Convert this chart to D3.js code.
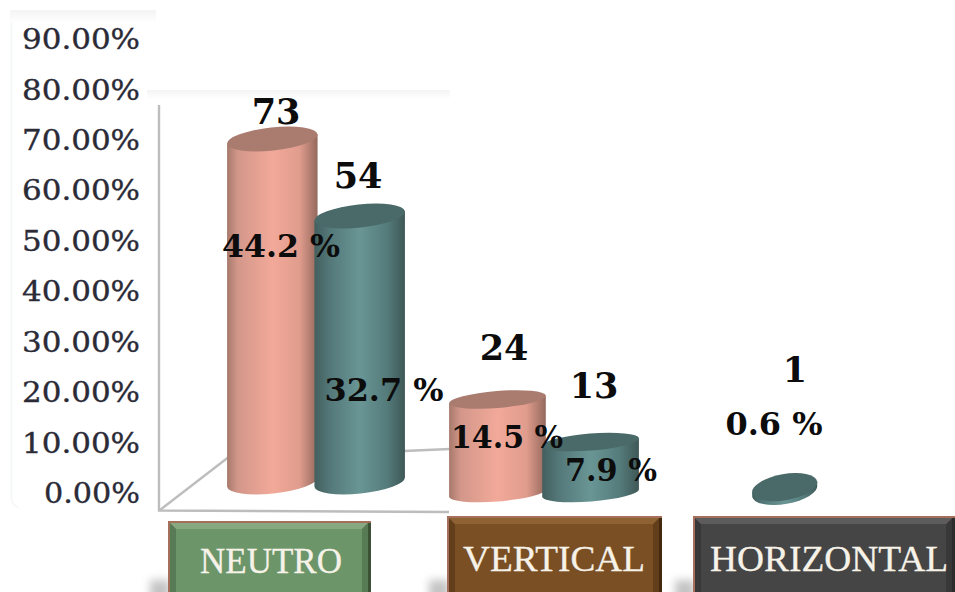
<!DOCTYPE html>
<html>
<head>
<meta charset="utf-8">
<script src="https://cdn.jsdelivr.net/npm/d3@7"></script>
<style>
html,body{margin:0;padding:0;background:#fff;overflow:hidden}
svg{display:block}
</style>
</head>
<body>
<svg id="chart" width="955" height="592"></svg>
<script>
// Survey results by category
const categories = ["NEUTRO", "VERTICAL", "HORIZONTAL"];
const seriesACounts = [73, 24, null];
const seriesAPercent = [44.2, 14.5, null];
const seriesBCounts = [54, 13, 1];
const seriesBPercent = [32.7, 7.9, 0.6];
const tickValues = [0, 10, 20, 30, 40, 50, 60, 70, 80, 90];

const svg = d3.select("#chart");
const defs = svg.append("defs");

// Category placement, cylinder sizing and floor depth
const groupCenter = d3.scaleOrdinal(categories, [316, 544, 753]);
const cylinderWidth = d3.scaleOrdinal(categories, [91, 97, 66]);
const floorY = d3.scaleOrdinal(categories, [482, 493, 491]);
const capRy = d3.scaleOrdinal(categories, [11.5, 8.5, 13]);
const capTilt = d3.scaleOrdinal(categories, [-6, -4.5, -10]);
// Heights foreshorten toward the front of the floor, hence the bent scale
const heightScale = d3.scaleLinear().domain([0, 14.5, 32.7, 44.2]).range([0, 93.5, 266, 343]);
const yAxisScale = d3.scaleLinear().domain([0, 90]).range([494, 40]);

function cylGradient(id, stops) {
  const g = defs.append("linearGradient").attr("id", id)
    .attr("x1", "0").attr("x2", "1").attr("y1", "0").attr("y2", "0");
  stops.forEach(([o, c]) => g.append("stop").attr("offset", o).attr("stop-color", c));
}
cylGradient("bodyA", [[0, "#a67a6c"], [0.12, "#d3978a"], [0.5, "#f2a999"], [0.8, "#e09c8d"], [1, "#94695d"]]);
cylGradient("bodyB", [[0, "#435f5e"], [0.18, "#55797a"], [0.5, "#699695"], [0.8, "#557b7b"], [1, "#3e5857"]]);
const fadeV = defs.append("linearGradient").attr("id", "fadeV").attr("x1", 0).attr("x2", 0).attr("y1", 0).attr("y2", 1);
fadeV.append("stop").attr("offset", 0).attr("stop-color", "#f4f4f4");
fadeV.append("stop").attr("offset", 1).attr("stop-color", "#ffffff");
defs.append("filter").attr("id", "soft").attr("x", "-60%").attr("y", "-60%").attr("width", "220%").attr("height", "220%")
  .append("feGaussianBlur").attr("stdDeviation", 4);

// Faint panel edges behind the plot
svg.append("rect").attr("x", 10).attr("y", 10).attr("width", 146).attr("height", 13).attr("fill", "url(#fadeV)");
svg.append("rect").attr("x", 147).attr("y", 90).attr("width", 303).attr("height", 9).attr("fill", "url(#fadeV)");
svg.append("path").attr("d", "M11.5 22V498Q12 505 18 507").attr("fill", "none").attr("stroke", "#f4f5f5").attr("stroke-width", 1.5);

// Wall and floor outlines
const wall = svg.append("g").attr("fill", "none").attr("stroke", "#bdbdbd").attr("stroke-width", 2.4);
wall.append("path").attr("d", "M159 105V510.5L449 512");
wall.append("path").attr("d", "M160 510L230 456");
wall.append("path").attr("d", "M404 451L450 449");

// Y axis
const axis = d3.axisLeft(yAxisScale).tickValues(tickValues).tickSize(0).tickPadding(0)
  .tickFormat(d => d3.format(".2f")(d) + "%");
const axisG = svg.append("g").attr("transform", "translate(140,0)").call(axis);
axisG.select(".domain").remove();
axisG.selectAll("text")
  .attr("font-family", "'DejaVu Serif', serif").attr("font-size", 27).attr("fill", "#2b2b38")
  .attr("stroke", "#2b2b38").attr("stroke-width", 0.35)
  .attr("textLength", d => d === 0 ? 96 : 118).attr("lengthAdjust", "spacingAndGlyphs");

// One tilted cylinder: side wall, then top cap
function cylinder(g, cx, w, base, h, ry, tilt, body, cap) {
  const rx = w / 2, a = tilt * Math.PI / 180;
  const dx = rx * Math.cos(a), dy = rx * Math.sin(a);
  const top = base - h;
  g.append("path")
    .attr("d", `M${cx - dx} ${top - dy}L${cx - dx} ${base - dy}` +
      `A${rx} ${ry} ${tilt} 0 0 ${cx + dx} ${base + dy}L${cx + dx} ${top + dy}Z`)
    .attr("fill", `url(#${body})`);
  g.append("ellipse").attr("cx", 0).attr("cy", 0).attr("rx", rx).attr("ry", ry)
    .attr("transform", `translate(${cx},${top}) rotate(${tilt})`)
    .attr("fill", cap);
}

const bars = svg.append("g");
categories.forEach((c, i) => {
  const w = cylinderWidth(c), cx = groupCenter(c), off = w * 0.48;
  if (seriesAPercent[i] != null) {
    cylinder(bars, cx - off, w, floorY(c), heightScale(seriesAPercent[i]), capRy(c), capTilt(c), "bodyA", "#aa7c70");
  }
  cylinder(bars, cx + off, w, floorY(c), heightScale(seriesBPercent[i]), capRy(c), capTilt(c), "bodyB", "#4a6a69");
});

// Value labels
const labelFont = "'DejaVu Serif', serif";
function label(x, y, text, size, len) {
  const t = svg.append("text").attr("x", x).attr("y", y).attr("text-anchor", "middle")
    .attr("font-family", labelFont).attr("font-weight", 700).attr("font-size", size).attr("fill", "#0c0c0c")
    .text(text);
  if (len) t.attr("textLength", len).attr("lengthAdjust", "spacingAndGlyphs");
}
const countLabelPos = [[276, 124], [358, 188], [504, 360], [594, 398], [795, 382]];
const percentLabelPos = [[281, 257], [384, 401], [507, 448], [611, 481], [774, 435]];
const percentLabelLen = [118, 119, 112, 92, 97];
const counts = [seriesACounts[0], seriesBCounts[0], seriesACounts[1], seriesBCounts[1], seriesBCounts[2]];
const percents = [seriesAPercent[0], seriesBPercent[0], seriesAPercent[1], seriesBPercent[1], seriesBPercent[2]];
counts.forEach((v, i) => label(countLabelPos[i][0], countLabelPos[i][1], v, 35));
percents.forEach((v, i) => label(percentLabelPos[i][0], percentLabelPos[i][1], v + " %", 32, percentLabelLen[i]));

// Bevelled category buttons
const buttonX = d3.scaleOrdinal(categories, [168, 447, 693]);
const buttonW = d3.scaleOrdinal(categories, [203, 215, 262]);
const buttonTop = d3.scaleOrdinal(categories, [521, 516, 516]);
const buttonFace = d3.scaleOrdinal(categories, ["#6c9669", "#7a4f24", "#454545"]);
const bevelLight = d3.scaleOrdinal(categories, ["#86a982", "#8f6233", "#5c5c5c"]);
const bevelDark = d3.scaleOrdinal(categories, ["#3c5237", "#45290f", "#2c2c2c"]);
const bevelSide = d3.scaleOrdinal(categories, ["#577b54", "#633e1a", "#383838"]);
const buttonText = d3.scaleOrdinal(categories, [[200, 573, 142], [463, 571, 182], [710, 571, 238]]);

categories.forEach(c => {
  const x = buttonX(c), w = buttonW(c), y = buttonTop(c), b = 600, e = 6;
  const g = svg.append("g");
  g.append("rect").attr("x", x - 18).attr("y", 580).attr("width", 20).attr("height", 28)
    .attr("fill", "#c4c4c4").attr("filter", "url(#soft)");
  // reddish outline on the top and left, dark on the right
  g.append("rect").attr("x", x).attr("y", y).attr("width", w).attr("height", b - y).attr("fill", "#a56f5c");
  g.append("rect").attr("x", x + w - 3).attr("y", y + 2).attr("width", 3).attr("height", b - y).attr("fill", bevelDark(c));
  g.append("path").attr("d", `M${x + 2} ${y + 2}H${x + w - 3}L${x + w - 3 - e} ${y + 2 + e}H${x + 2 + e}Z`).attr("fill", bevelLight(c));
  g.append("path").attr("d", `M${x + 2} ${y + 2}L${x + 2 + e} ${y + 2 + e}V${b}H${x + 2}Z`).attr("fill", bevelSide(c));
  g.append("path").attr("d", `M${x + w - 3} ${y + 2}L${x + w - 3 - e} ${y + 2 + e}V${b}H${x + w - 3}Z`).attr("fill", bevelSide(c));
  g.append("rect").attr("x", x + 2 + e).attr("y", y + 2 + e).attr("width", w - 5 - 2 * e).attr("height", b - y).attr("fill", buttonFace(c));
  const [tx, ty, tl] = buttonText(c);
  g.append("text").attr("x", tx).attr("y", ty).attr("font-family", "'Liberation Serif', serif")
    .attr("font-size", 35).attr("fill", "#f6f2e8").attr("stroke", "#f6f2e8").attr("stroke-width", 0.3)
    .attr("textLength", tl).attr("lengthAdjust", "spacingAndGlyphs").text(c);
});
</script>
</body>
</html>
